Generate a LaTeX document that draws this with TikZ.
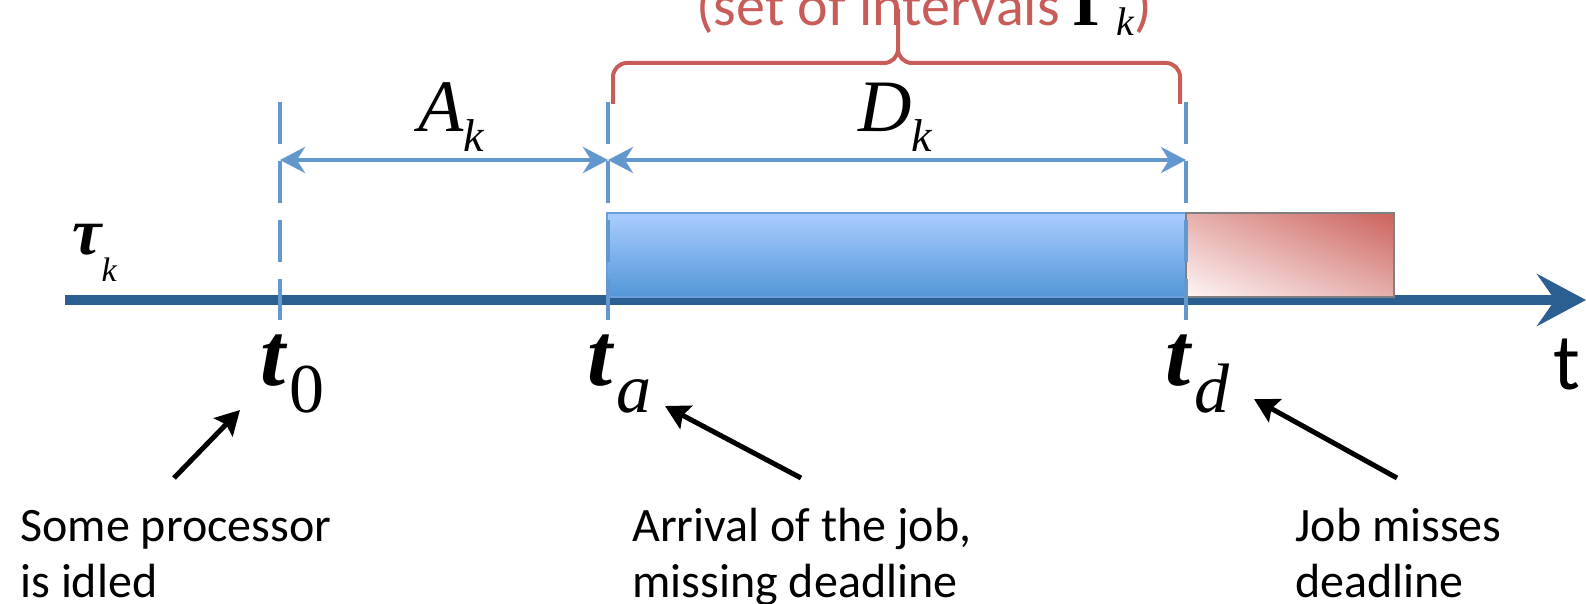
\documentclass[tikz,border=0pt]{standalone}
\usepackage{fontspec}
\setmainfont{Carlito}
\newfontfamily\serifmath{Liberation Serif}
\usetikzlibrary{arrows.meta,positioning,shadings}

\definecolor{axisblue}{RGB}{43,94,145}
\definecolor{markblue}{RGB}{98,152,205}
\definecolor{jobtop}{RGB}{170,205,255}
\definecolor{jobbottom}{RGB}{82,150,215}
\definecolor{jobedge}{RGB}{105,160,220}
\definecolor{missred}{RGB}{204,98,92}
\definecolor{misslight}{RGB}{253,246,246}
\definecolor{missmid}{RGB}{230,175,172}
\definecolor{bracered}{RGB}{200,92,88}

% t with a subscript, as on the time axis
\newcommand{\timelabel}[1]{{\serifmath\fontsize{45}{45}\selectfont\bfseries\itshape t}\kern2pt\raisebox{-13.5pt}{\serifmath\fontsize{35}{35}\selectfont #1}}

\begin{document}
\begin{tikzpicture}[x=0.5pt, y=-0.5pt,
        lbl/.style={inner sep=0pt, anchor=base west},
        note/.style={inner sep=0pt, anchor=base west, align=left, font=\fontsize{24}{28}\selectfont},
        marker/.style={markblue, line width=2pt, dash pattern=on 21pt off 8.5pt},
        span/.style={{Stealth[length=12.5pt,width=13pt,inset=4pt]}-{Stealth[length=12.5pt,width=13pt,inset=4pt]}, markblue, line width=2pt},
        pointer/.style={-{Stealth[length=12pt,width=13pt,inset=2pt]}, line width=2.5pt},
        timeline/.style={axisblue, line width=5pt, -{Stealth[length=24.5pt,width=26pt,inset=9pt]}}
    ]
        \useasboundingbox (0,0) rectangle (1586,604);
        \clip (0,0) rectangle (1586,604);

        % Time axis
        \coordinate (start) at (65,300);
        \coordinate (end) at (1586,300);
        \draw[timeline] (start) -- (end);

        % Job execution and overrun
        \shade[top color=jobtop, bottom color=jobbottom, draw=jobedge, line width=0.75pt]
            (607,213) rectangle (1186,297);
        \shade[lower left=misslight, upper right=missred, upper left=missmid, lower right=missmid,
            draw=gray, line width=1pt] (1186,213) rectangle (1394,297);

        % Time markers (dashed)
        \foreach \name/\x in {zero/280, arr/608, dead/1186} {
            \coordinate (\name-top) at (\x,102);
            \coordinate (\name-bottom) at (\x,320);
            \coordinate (\name-mid) at (\x,160);
            \draw[marker] (\name-top) -- (\name-bottom);
        }

        % Intervals
        \draw[span] (zero-mid) -- (arr-mid);
        \draw[span] (arr-mid) -- (dead-mid);
        \node[lbl] (A) at (418,132) {\serifmath\fontsize{37}{37}\selectfont\itshape A\raisebox{-10pt}{\fontsize{23}{23}\selectfont k}};
        \node[lbl] (D) at (858,132) {\serifmath\fontsize{37}{37}\selectfont\itshape D\raisebox{-10pt}{\fontsize{23}{23}\selectfont k}};

        % Brace
        \draw[bracered, line width=2pt, line join=round]
            (613,104) -- (613,77) to[out=90,in=180] (627,63) -- (884,63)
            to[out=0,in=-90] (898,49) -- (898,10) -- (898,49)
            to[out=-90,in=180] (912,63) -- (1166,63) to[out=0,in=90] (1180,77) -- (1180,104);
        \node[lbl] (set) at (696,26) {\fontsize{29}{29}\selectfont\color{bracered}(set of intervals
            {\color{black}\serifmath\bfseries\fontsize{34}{34}\selectfont Γ\raisebox{-5pt}{\mdseries\itshape\fontsize{20}{20}\selectfont k}})};

        % Axis labels
        \node[lbl] (tau) at (72,255) {\serifmath\fontsize{33}{33}\selectfont\bfseries\itshape τ\raisebox{-13.5pt}{\mdseries\fontsize{17}{17}\selectfont k}};
        \node[lbl] (t0) at (260,386) {\timelabel{0}};
        \node[lbl] (ta) at (587,386) {\timelabel{\itshape a}};
        \node[lbl] (td) at (1165,386) {\timelabel{\itshape d}};
        \node[lbl] (t) at (1553,390) {\fontsize{40}{40}\selectfont t};

        % Notes
        \node[note] (idle) at (20,597) {Some processor\\is idled};
        \node[note] (arrival) at (632,597) {Arrival of the job,\\missing deadline};
        \node[note] (miss) at (1295,597) {Job misses\\deadline};

        % Pointers
        \coordinate (idle-tail) at (174,478);
        \coordinate (idle-head) at (240,410);
        \coordinate (arrival-tail) at (801,478);
        \coordinate (arrival-head) at (665,406);
        \coordinate (miss-tail) at (1397,478);
        \coordinate (miss-head) at (1254,399);
        \draw[pointer] (idle-tail) -- (idle-head);
        \draw[pointer] (arrival-tail) -- (arrival-head);
        \draw[pointer] (miss-tail) -- (miss-head);
\end{tikzpicture}
\end{document}
